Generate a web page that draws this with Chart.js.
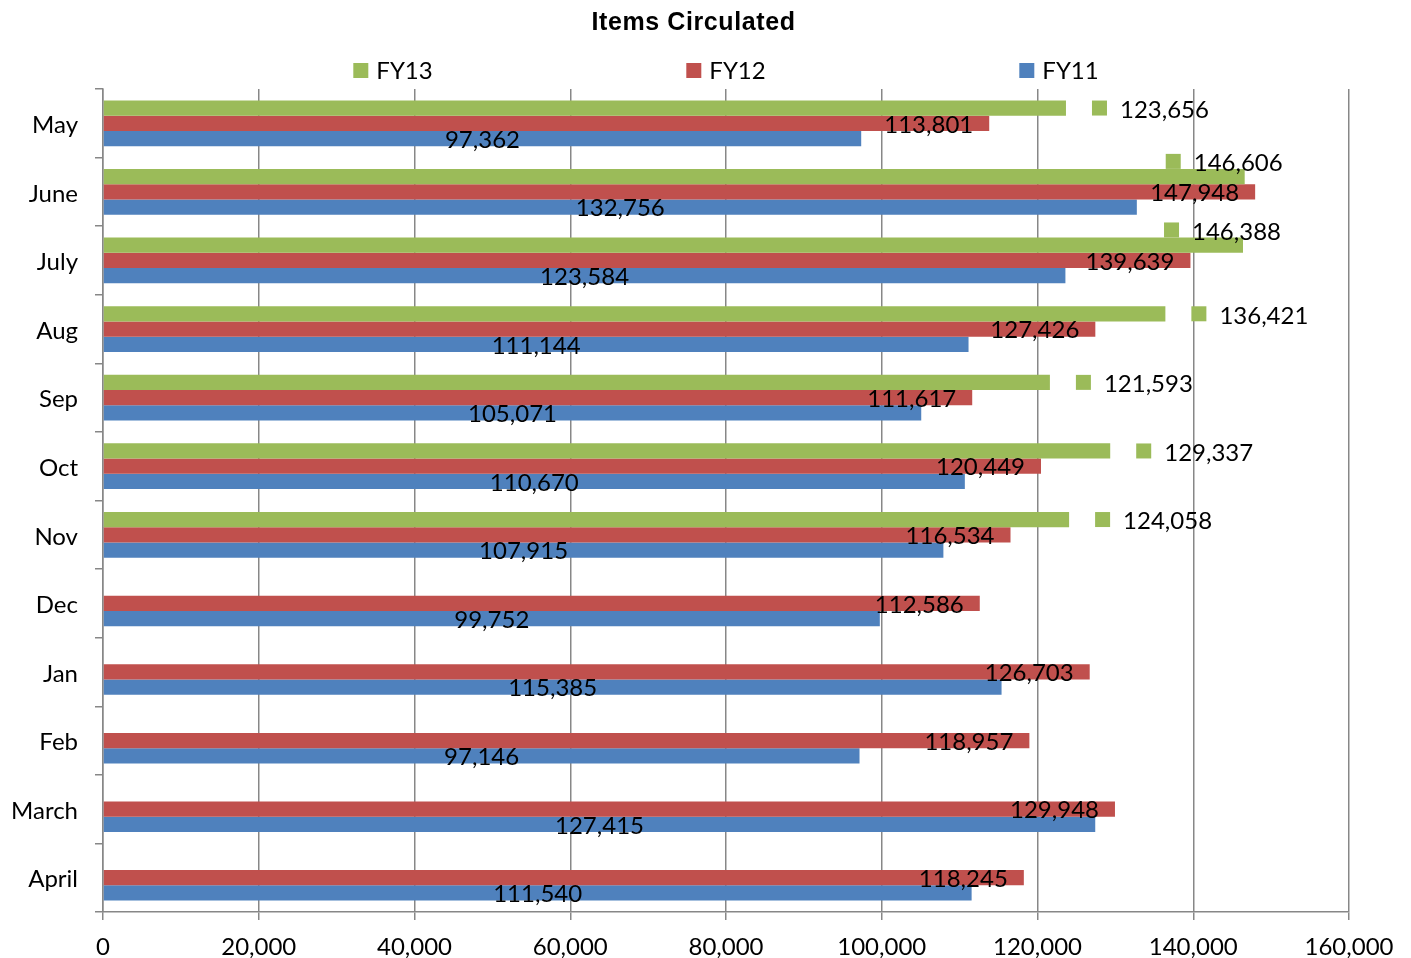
<!DOCTYPE html>
<html>
<head>
<meta charset="utf-8">
<script src="https://cdn.jsdelivr.net/npm/chart.js@4.4.1/dist/chart.umd.min.js"></script>
<style>
  html, body { margin: 0; padding: 0; background: #fff; }
  canvas { display: block; }
</style>
</head>
<body>
<canvas id="chart" width="1411" height="958"></canvas>
<script>
// Monthly circulation counts, fiscal years 11-13
const months = ['May', 'June', 'July', 'Aug', 'Sep', 'Oct', 'Nov', 'Dec', 'Jan', 'Feb', 'March', 'April'];
const fy13 = [123656, 146606, 146388, 136421, 121593, 129337, 124058, null, null, null, null, null];
const fy12 = [113801, 147948, 139639, 127426, 111617, 120449, 116534, 112586, 126703, 118957, 129948, 118245];
const fy11 = [97362, 132756, 123584, 111144, 105071, 110670, 107915, 99752, 115385, 97146, 127415, 111540];
const xTickMin = 0;
const xTickMax = 160000;
const xTickStep = 20000;
const chartTitle = 'Items Circulated';

const GREEN = '#9BBB59';
const RED = '#C0504D';
const BLUE = '#4F81BD';
const GRID = '#878787';
const TEXT_FONT = 'Lato, "Open Sans", sans-serif';

const fmt = v => v.toLocaleString('en-US');

// Value labels: centred for FY11, inside end for FY12, outside with a key for FY13
const valueLabels = {
  id: 'valueLabels',
  afterDatasetsDraw(chart) {
    const ctx = chart.ctx;
    const area = chart.chartArea;
    ctx.save();
    ctx.font = '24px ' + TEXT_FONT;
    ctx.textBaseline = 'middle';
    chart.data.datasets.forEach((ds, di) => {
      const meta = chart.getDatasetMeta(di);
      meta.data.forEach((bar, i) => {
        const v = ds.data[i];
        if (v === null || v === undefined) return;
        const text = fmt(v);
        const p = bar.getProps(['x', 'y', 'base', 'height'], true);
        if (ds.labelMode === 'center') {
          ctx.fillStyle = '#000';
          ctx.textAlign = 'center';
          ctx.fillText(text, (p.x + p.base) / 2, p.y + 1.5);
        } else if (ds.labelMode === 'insideEnd') {
          ctx.fillStyle = '#000';
          ctx.textAlign = 'right';
          ctx.fillText(text, p.x - 16, p.y + 1.5);
        } else {
          const w = ctx.measureText(text).width;
          let kx = p.x + 26;
          let tx = kx + 28;
          let cy = p.y;
          if (tx + w > area.right) {
            // not enough room to the right: pull the label back and lift it above the bar
            tx = p.x + 38 - w;
            kx = tx - 28;
            cy = p.y - p.height;
          }
          ctx.fillStyle = ds.backgroundColor;
          ctx.fillRect(kx, cy - 7.5, 15, 15);
          ctx.fillStyle = '#000';
          ctx.textAlign = 'left';
          ctx.fillText(text, tx, cy + 2);
        }
      });
    });
    ctx.restore();
  }
};

// Title and a wide, evenly spaced legend row above the plot
const header = {
  id: 'header',
  afterDraw(chart) {
    const ctx = chart.ctx;
    const area = chart.chartArea;
    ctx.save();
    ctx.fillStyle = '#000';
    ctx.textBaseline = 'middle';
    ctx.textAlign = 'center';
    ctx.font = 'bold 25px "Liberation Sans", Arial, sans-serif';
    if ('letterSpacing' in ctx) ctx.letterSpacing = '0.6px';
    ctx.fillText(chartTitle, chart.width / 2 - 12, 23);
    if ('letterSpacing' in ctx) ctx.letterSpacing = '0px';

    ctx.font = '24px ' + TEXT_FONT;
    ctx.textAlign = 'left';
    const cx = (area.left + area.right) / 2;
    const spacing = 333;
    const n = chart.data.datasets.length;
    chart.data.datasets.forEach((ds, i) => {
      const tw = ctx.measureText(ds.label).width;
      const itemW = 15 + 8 + tw;
      const center = cx + (i - (n - 1) / 2) * spacing;
      const left = center - itemW / 2;
      ctx.fillStyle = ds.backgroundColor;
      ctx.fillRect(left, 63, 15, 15);
      ctx.fillStyle = '#000';
      ctx.fillText(ds.label, left + 23, 71);
    });
    ctx.restore();
  }
};

new Chart(document.getElementById('chart'), {
  type: 'bar',
  data: {
    labels: months,
    datasets: [
      { label: 'FY13', data: fy13, backgroundColor: GREEN, labelMode: 'outside' },
      { label: 'FY12', data: fy12, backgroundColor: RED, labelMode: 'insideEnd' },
      { label: 'FY11', data: fy11, backgroundColor: BLUE, labelMode: 'center' }
    ]
  },
  options: {
    indexAxis: 'y',
    responsive: false,
    animation: false,
    devicePixelRatio: 1,
    datasets: {
      bar: { categoryPercentage: 0.667, barPercentage: 1.0, borderWidth: 0 }
    },
    layout: { padding: { top: 89, right: 62, bottom: 0, left: 0 } },
    plugins: {
      legend: { display: false },
      title: { display: false },
      tooltip: { enabled: false }
    },
    scales: {
      x: {
        min: xTickMin,
        max: xTickMax,
        ticks: {
          stepSize: xTickStep,
          color: '#000',
          font: { family: TEXT_FONT, size: 24 },
          padding: 13,
          maxRotation: 0,
          callback: v => fmt(v)
        },
        grid: { color: GRID, lineWidth: 1.5, tickLength: 8, drawTicks: true },
        border: { color: GRID, width: 1.5 },
        afterFit: s => { s.height = 46; }
      },
      y: {
        ticks: {
          color: '#000',
          font: { family: TEXT_FONT, size: 24 },
          padding: 17,
          labelOffset: 2
        },
        grid: { drawOnChartArea: false, color: GRID, lineWidth: 1.5, tickLength: 8, offset: true },
        border: { color: GRID, width: 1.5 },
        afterFit: s => { s.width = 103; }
      }
    }
  },
  plugins: [valueLabels, header]
});
</script>
</body>
</html>
